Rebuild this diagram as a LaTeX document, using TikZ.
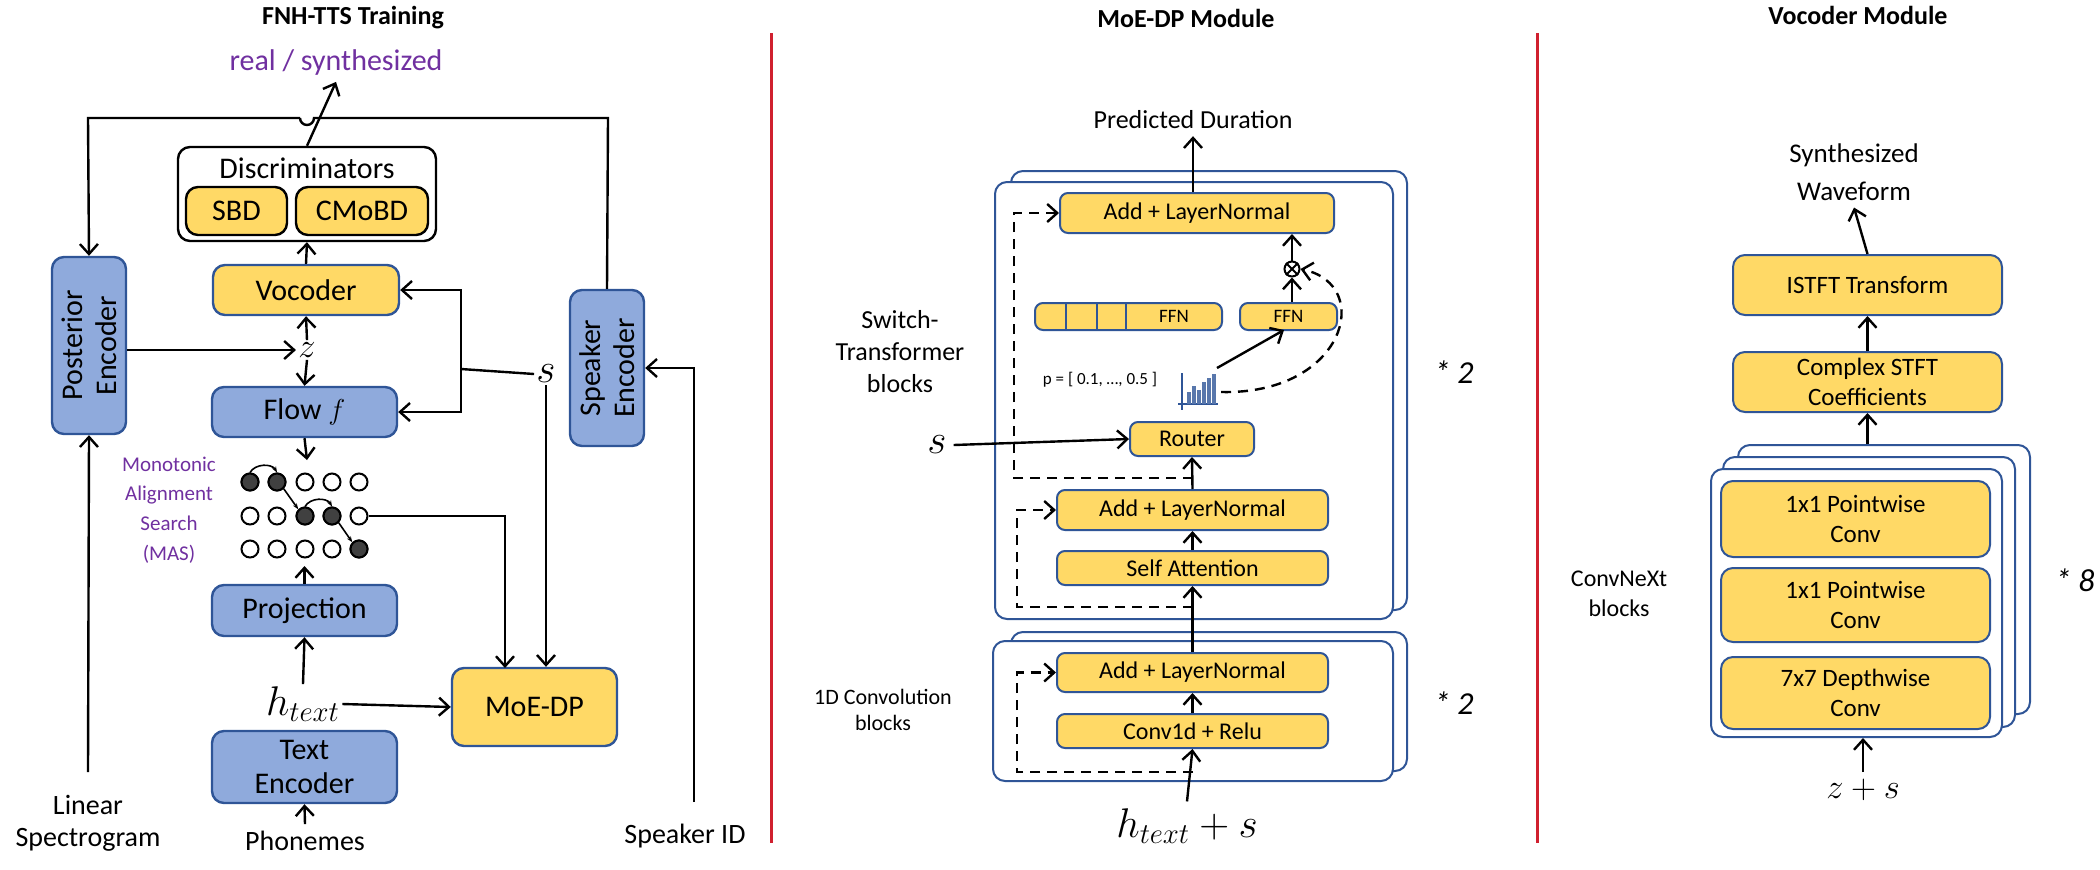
\documentclass[tikz,border=0pt]{standalone}
\usepackage{fontspec}
\setmainfont{Carlito}
\usetikzlibrary{arrows.meta,shapes.geometric,calc}
\newdimen\px \px=0.5pt
\definecolor{bluefill}{HTML}{8FAADC}
\definecolor{blueline}{HTML}{2F5597}
\definecolor{yellowfill}{HTML}{FFD966}
\definecolor{masviolet}{HTML}{7030A0}
\definecolor{sepred}{HTML}{D0202F}
\tikzset{
  x=0.5pt, y=-0.5pt,
  arr/.style = {line width=1.2pt, -{Straight Barb[length=5pt,width=9pt,line width=1.2pt]}},
  darr/.style = {arr, dashed, dash pattern=on 5pt off 3.5pt},
  bluebox/.style = {draw=blueline, fill=bluefill, line width=1.2pt, rounded corners=6pt, inner sep=0pt, align=center, font=\fontsize{15}{17}\selectfont},
  yelbox/.style = {bluebox, fill=yellowfill},
  yelblk/.style = {yelbox, draw=black},
  modbox/.style = {yelbox, line width=1pt, rounded corners=4pt, font=\fontsize{12}{13}\selectfont},
  vocbox/.style = {modbox, rounded corners=6pt, font=\fontsize{12.5}{15}\selectfont},
  frame/.style = {draw=blueline, fill=white, line width=1pt, rounded corners=6pt, inner sep=0pt},
  title/.style = {font=\fontsize{13}{15}\selectfont\bfseries},
  lbl/.style = {align=center, font=\fontsize{14}{16}\selectfont},
  mlbl/.style = {align=center, font=\fontsize{13}{15.5}\selectfont},
  dot/.style = {circle, draw=black, line width=1pt, minimum size=17\px, inner sep=0pt},
}
\begin{document}
\begin{tikzpicture}
\useasboundingbox (0,0) rectangle (2100,869);

% separators and titles
\draw[sepred, line width=1.5pt] (771,33) -- (771,843);
\draw[sepred, line width=1.5pt] (1537,33) -- (1537,843);
\node[title] (t1) at (353,18) {FNH-TTS Training};
\node[title] (t2) at (1186,18) {MoE-DP Module};
\node[title] (t3) at (1858,15) {Vocoder Module};

%%% FNH-TTS training
\node[draw=black, line width=1.2pt, rounded corners=6pt, minimum width=258\px, minimum height=94\px] (disc) at (307,194) {};
\node[lbl, font=\fontsize{15}{17}\selectfont] (disct) at (307,168) {Discriminators};
\node[yelblk, minimum width=101\px, minimum height=48\px] (sbd) at (236.5,211) {SBD};
\node[yelblk, minimum width=132\px, minimum height=48\px] (cmobd) at (362,211) {CMoBD};
\node[lbl, text=masviolet, font=\fontsize{15}{17}\selectfont] (real) at (336,62) {real / synthesized};

\node[bluebox, rotate=90, minimum width=177\px, minimum height=74\px] (post) at (89,345.5) {Posterior\\Encoder};
\node[yelbox, minimum width=186\px, minimum height=50\px] (voc) at (306,290) {Vocoder};
\node[bluebox, minimum width=185\px, minimum height=50\px] (flow) at (304.5,412) {Flow $f$};
\node[bluebox, rotate=90, minimum width=156\px, minimum height=74\px] (spk) at (607,368) {Speaker\\Encoder};
\node[bluebox, minimum width=185\px, minimum height=51\px] (proj) at (304.5,610.5) {Projection};
\node[yelbox, minimum width=165\px, minimum height=78\px] (moe) at (534.5,707) {MoE-DP};
\node[bluebox, minimum width=185\px, minimum height=72\px, font=\fontsize{15}{17}\selectfont] (tenc) at (304.5,767) {Text\\Encoder};

\node[font=\fontsize{16}{16}\selectfont, inner sep=1pt] (z) at (307,350) {$z$};
\node[font=\fontsize{20}{20}\selectfont, inner sep=1pt] (s) at (546,374) {$s$};
\node[font=\fontsize{20}{20}\selectfont, inner sep=1pt] (htext) at (303,704) {$h_{text}$};
\node[lbl] (phon) at (305,841) {Phonemes};
\node[lbl] (lin) at (88,823) {Linear\\Spectrogram};
\node[lbl] (spkid) at (685,836) {Speaker ID};
\node[mlbl, text=masviolet, font=\fontsize{10.5}{14.8}\selectfont] (mas) at (169,510) {Monotonic\\Alignment\\Search\\(MAS)};

% alignment grid
\foreach \r/\yy in {1/482,2/516,3/549}
  \foreach \c/\xx in {1/250,2/277,3/305,4/332,5/359}
    \node[dot] (g\r\c) at (\xx,\yy) {};
\foreach \n in {g11,g12,g23,g24,g35} \node[dot, fill=black!75] at (\n) {};
\draw[line width=0.8pt, -{Stealth[length=3pt]}] (g11.north) to[bend left=60] (g12.north);
\draw[line width=0.8pt, -{Stealth[length=3pt]}] (g12.south east) -- (g23.north west);
\draw[line width=0.8pt, -{Stealth[length=3pt]}] (g23.north) to[bend left=60] (g24.north);
\draw[line width=0.8pt, -{Stealth[length=3pt]}] (g24.south east) -- (g35.north west);

% connectors
\draw[arr] (disc.north) -- (real.south);
\draw[arr] (300,118) -- (88,118) -- (post.east);
\draw[line width=1.2pt] (300,118) arc[start angle=180, end angle=0, radius=7] -- (608,118) -- (spk.east);
\draw[arr] (voc.north) -- (disc.south);
\draw[arr] (z.north) -- (voc.south);
\draw[arr] (z.south) -- (flow.north);
\draw[arr] (post.south |- z) -- (z.west);
\draw[line width=1.2pt] (s.west) -- (461,369) coordinate (sj);
\draw[arr] (sj) |- (voc.east);
\draw[arr] (sj) |- (flow.east);
\draw[arr] (flow.south) -- (307,460);
\draw[arr] (proj.north) -- (304.5,566);
\draw[arr] (g25.east) -- (505,516) -- (505,668);
\draw[arr] (s.south) -- (s |- moe.north);
\draw[arr] (htext.north) -- (proj.south);
\draw[arr] (htext.east) -- (moe.west);
\draw[arr] (phon.north) -- (tenc.south);
\draw[arr] (88,772) -- (post.west);
\draw[arr] (694,802) -- (694,368) -- (spk.south);

%%% MoE-DP module
\node[frame, minimum width=396\px, minimum height=439\px] (stb) at (1209,390.5) {};
\node[frame, minimum width=398\px, minimum height=437\px] (stf) at (1194,400.5) {};
\node[frame, minimum width=396\px, minimum height=139\px] (cvb) at (1209,701.5) {};
\node[frame, minimum width=400\px, minimum height=140\px] (cvf) at (1193,711) {};

\node[modbox, minimum width=274\px, minimum height=40\px] (add1) at (1197,213) {Add + LayerNormal};
\node[modbox, minimum width=187\px, minimum height=27\px, font=\fontsize{9.5}{10}\selectfont] (ffns) at (1128.5,316.5) {};
\foreach \xx in {1066,1097,1126} \draw[blueline, line width=1pt] (\xx,303) -- (\xx,330);
\node[font=\fontsize{9.5}{10}\selectfont] (ffnt) at (1174,316.5) {FFN};
\node[modbox, minimum width=97\px, minimum height=27\px, font=\fontsize{9.5}{10}\selectfont] (ffn1) at (1288.5,316.5) {FFN};
\node[circle, draw=black, line width=1pt, minimum size=15\px, inner sep=0pt] (otimes) at (1292,269) {};
\draw[line width=1pt] (otimes.north west) -- (otimes.south east) (otimes.north east) -- (otimes.south west);
\node[modbox, minimum width=124\px, minimum height=34\px] (router) at (1192,439) {Router};
\node[modbox, minimum width=271\px, minimum height=40\px] (add2) at (1192.5,510) {Add + LayerNormal};
\node[modbox, minimum width=271\px, minimum height=34\px] (sa) at (1192.5,568) {Self Attention};
\node[modbox, minimum width=271\px, minimum height=39\px] (add3) at (1192.5,672.5) {Add + LayerNormal};
\node[modbox, minimum width=271\px, minimum height=34\px] (conv) at (1192.5,731) {Conv1d + Relu};

\node[font=\fontsize{8.5}{10}\selectfont] (plbl) at (1100,380) {p = [ 0.1, \ldots, 0.5 ]};
% router probability chart
\draw[blueline, line width=0.8pt] (1182,373) -- (1182,410) (1178,404) -- (1218,404);
\foreach \xx/\hh in {1187/12,1192/18,1197/14,1202/22,1207/26,1212/30}
  \fill[blueline!80] (\xx,404) rectangle ++(3.5,-\hh);

\node[font=\fontsize{13}{16}\selectfont, align=center] (stlbl) at (900,352) {Switch-\\Transformer\\blocks};
\node[font=\fontsize{11}{13}\selectfont, align=center] (cvlbl) at (883,710) {1D Convolution\\blocks};
\node[font=\fontsize{20}{20}\selectfont] (s2) at (937,445) {$s$};
\node[font=\fontsize{20}{20}\selectfont] (hts) at (1187,826) {$h_{text}+s$};
\node[font=\fontsize{16}{16}\selectfont\itshape] (rep1) at (1454,372) {* 2};
\node[font=\fontsize{16}{16}\selectfont\itshape] (rep2) at (1454,703) {* 2};
\node[font=\fontsize{13}{15}\selectfont] (pdur) at (1193,120) {Predicted Duration};

\draw[arr] (hts.north) -- (conv.south);
\draw[arr] (conv.north) -- (add3.south);
\draw[arr] (add3.north) -- (sa.south);
\draw[arr] (sa.north) -- (add2.south);
\draw[arr] (add2.north) -- (router.south);
\draw[arr] (ffn1.north -| otimes) -- (otimes.south);
\draw[arr] (otimes.north) -- (otimes |- add1.south);
\draw[arr] (add1.north -| pdur) -- (pdur.south);
\draw[arr] (1217,368) -- (1284,330);
\draw[darr] (1221,392) .. controls (1345,395) and (1375,285) .. (otimes.east);
\draw[arr] (s2.east) -- (router.west);
\draw[darr] (1193,478) -- (1014,478) |- (add1.west);
\draw[darr] (1193,607) -- (1017,607) |- (add2.west);
\draw[darr] (1193,772) -- (1017,772) |- (add3.west);

%%% Vocoder module
\node[font=\fontsize{13.5}{19}\selectfont, align=center] (wave) at (1854,172) {Synthesized\\Waveform};
\node[vocbox, minimum width=269\px, minimum height=60\px] (istft) at (1867.5,285) {ISTFT Transform};
\node[vocbox, minimum width=269\px, minimum height=60\px] (cstft) at (1867.5,382) {Complex STFT\\Coefficients};
\node[frame, minimum width=292\px, minimum height=269\px] (cnb) at (1884,579.5) {};
\node[frame, minimum width=292\px, minimum height=270\px] (cnm) at (1869,592) {};
\node[frame, minimum width=291\px, minimum height=268\px] (cnf) at (1856.5,603) {};
\node[vocbox, minimum width=269\px, minimum height=76\px] (pw1) at (1855.5,519) {1x1 Pointwise\\Conv};
\node[vocbox, minimum width=269\px, minimum height=74\px] (pw2) at (1855.5,605) {1x1 Pointwise\\Conv};
\node[vocbox, minimum width=269\px, minimum height=72\px] (dw) at (1855.5,693) {7x7 Depthwise\\Conv};
\node[font=\fontsize{12}{15}\selectfont, align=center] (cnlbl) at (1619,594) {ConvNeXt\\blocks};
\node[font=\fontsize{16}{16}\selectfont\itshape] (rep3) at (2075,580) {* 8};
\node[font=\fontsize{18}{18}\selectfont] (zs) at (1863,790) {$z+s$};

\draw[arr] (zs.north) -- (zs |- cnf.south);
\draw[arr] (cnb.north -| istft) -- (cstft.south);
\draw[arr] (cstft.north) -- (istft.south);
\draw[arr] (istft.north) -- (wave.south);
\end{tikzpicture}
\end{document}
